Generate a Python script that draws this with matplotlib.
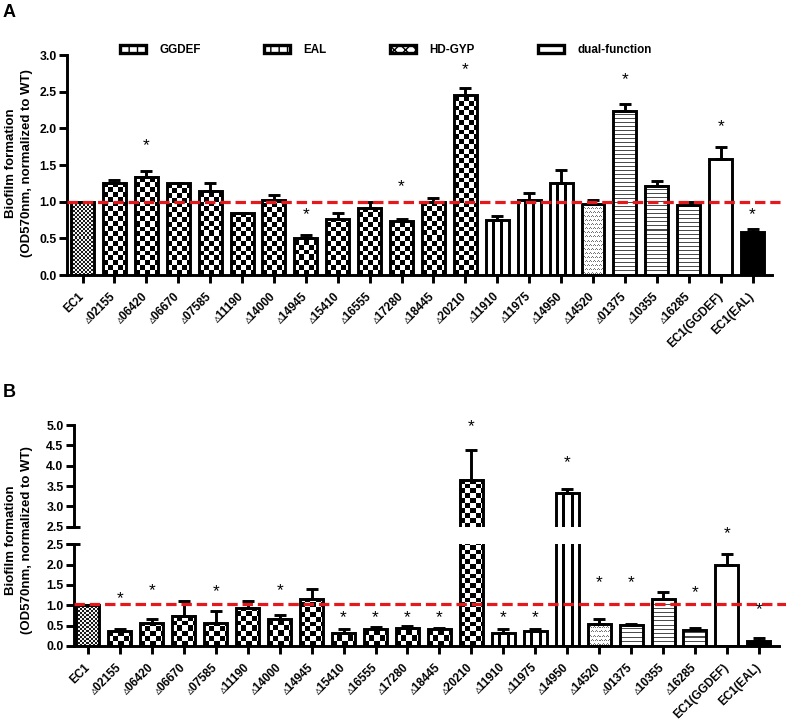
import numpy as np
import matplotlib
matplotlib.use('Agg')
import matplotlib.pyplot as plt
from matplotlib.patches import Patch
from matplotlib.ticker import FixedLocator, FormatStrFormatter
import matplotlib.transforms as mtransforms

plt.rcParams['font.family'] = ['Liberation Sans', 'DejaVu Sans']
plt.rcParams['font.weight'] = 'bold'
plt.rcParams['lines.scale_dashes'] = False

# ---------------- data ----------------
labels = ['EC1', '▵02155', '▵06420', '▵06670', '▵07585', '▵11190', '▵14000',
          '▵14945', '▵15410', '▵16555', '▵17280', '▵18445', '▵20210',
          '▵11910', '▵11975', '▵14950', '▵14520', '▵01375', '▵10355',
          '▵16285', 'EC1(GGDEF)', 'EC1(EAL)']
kinds = ['fine'] + ['checker'] * 12 + ['vstripe'] * 3 + ['dots'] + \
        ['hstripe'] * 3 + ['white', 'black']

a_vals = [1.00, 1.26, 1.34, 1.25, 1.15, 0.84, 1.02, 0.51, 0.76, 0.91, 0.73,
          1.00, 2.46, 0.75, 1.02, 1.26, 0.97, 2.23, 1.22, 0.95, 1.58, 0.58]
a_errs = [0.00, 0.04, 0.08, 0.01, 0.10, 0.01, 0.07, 0.04, 0.08, 0.08, 0.03,
          0.05, 0.09, 0.05, 0.10, 0.17, 0.05, 0.10, 0.06, 0.04, 0.17, 0.05]
a_star = [None, None, 1.77, None, None, None, None, 0.82, None, None, 1.20,
          None, 2.80, None, None, None, None, 2.66, None, None, 2.02, 0.82]

b_vals = [1.00, 0.36, 0.56, 0.74, 0.56, 0.94, 0.67, 1.15, 0.32, 0.43, 0.45,
          0.43, 3.66, 0.33, 0.37, 3.34, 0.55, 0.52, 1.16, 0.40, 2.00, 0.12]
b_errs = [0.00, 0.06, 0.10, 0.36, 0.30, 0.17, 0.08, 0.24, 0.10, 0.04, 0.03,
          0.01, 0.72, 0.10, 0.06, 0.09, 0.11, 0.03, 0.17, 0.05, 0.27, 0.07]
b_star = [None, 1.16, 1.35, None, 1.33, None, 1.35, None, 0.70, 0.70, 0.69,
          0.69, 4.96, 0.69, 0.69, 4.07, 1.57, 1.55, None, 1.30, 2.76, 0.89]

legend_names = ['GGDEF', 'EAL', 'HD-GYP', 'dual-function']
a_ref = 1.0
b_ref = 1.03

W, H = 786, 720
fig = plt.figure(figsize=(W / 100, H / 100), dpi=100)

BAR_W = 0.72
RED = '#e3191d'
TICK_FS = 8.8
XLAB_FS = 8.4


def pattern(kind, w, h):
    w = max(int(round(w)), 1)
    h = max(int(round(h)), 1)
    yy, xx = np.mgrid[0:h, 0:w]
    if kind == 'checker':
        c = 4.8
        arr = ((np.floor(xx / c) + np.floor(yy / c)) % 2).astype(float)
    elif kind == 'fine':
        arr = ((xx // 2 + yy // 2) % 2).astype(float) * 0.85 + 0.1
    elif kind == 'vstripe':
        arr = np.ones((h, w))
        for k in (1, 2):
            col = k * w / 3.0
            arr[:, np.abs(xx[0] + 0.5 - col) < 1.2] = 0.0
    elif kind == 'hstripe':
        arr = np.where(yy % 4 == 0, 0.3, 1.0)
    elif kind == 'dots':
        arr = np.ones((h, w))
        shift = 2 * ((yy // 4) % 2)
        m1 = (yy % 4 == 1) & ((xx + shift) % 4 == 1)
        m2 = (yy % 4 == 2) & ((xx + shift) % 4 == 2)
        m3 = (yy % 4 == 1) & ((xx + shift) % 4 == 3)
        arr[m1 | m2 | m3] = 0.45
    elif kind == 'black':
        arr = np.zeros((h, w))
    else:
        arr = np.ones((h, w))
    return arr


def draw_bars(ax, vals, errs, ylim):
    x = np.arange(len(vals))
    pxx = ax.bbox.width / (ax.get_xlim()[1] - ax.get_xlim()[0])
    pxy = ax.bbox.height / (ylim[1] - ylim[0])
    for xi, v, k in zip(x, vals, kinds):
        arr = pattern(k, BAR_W * pxx, v * pxy)
        ax.imshow(arr, cmap='gray', vmin=0, vmax=1, origin='lower',
                  extent=(xi - BAR_W / 2, xi + BAR_W / 2, 0, v),
                  interpolation='nearest', aspect='auto', zorder=1)
    ax.bar(x, vals, BAR_W, facecolor='none', edgecolor='black',
           linewidth=2.1, zorder=2)
    ax.errorbar(x, vals, yerr=[np.zeros(len(errs)), errs], fmt='none',
                ecolor='black', elinewidth=2.1, capsize=4.5, capthick=2.1,
                zorder=3)


def style_axis(ax):
    for s in ['top', 'right']:
        ax.spines[s].set_visible(False)
    for s in ['left', 'bottom']:
        ax.spines[s].set_linewidth(2.1)
    ax.tick_params(axis='both', direction='out', length=6, width=2.1,
                   labelsize=TICK_FS)
    ax.tick_params(axis='y', pad=1.5)
    ax.yaxis.set_major_formatter(FormatStrFormatter('%.1f'))


def set_xlabels(ax):
    ax.set_xticks(np.arange(len(labels)))
    ax.set_xticklabels(labels, rotation=45, ha='right', va='center',
                       rotation_mode='anchor', fontsize=XLAB_FS,
                       fontweight='bold')
    ax.tick_params(axis='x', pad=8)


def stars(ax, ys):
    for i, y in enumerate(ys):
        if y is not None:
            ax.text(i, y, '*', ha='center', va='center', fontsize=12.5,
                    fontweight='normal', zorder=5, clip_on=False)


# ---------------- Panel A ----------------
axA = fig.add_axes([67 / W, 1 - 275 / H, (772 - 67) / W, 220 / H])
axA.set_xlim(-0.486, 21.61)
axA.set_ylim(0, 3.0)
draw_bars(axA, a_vals, a_errs, (0, 3.0))
axA.set_xlim(-0.486, 21.61)
axA.set_ylim(0, 3.0)
style_axis(axA)
axA.yaxis.set_major_locator(FixedLocator(np.arange(0, 3.01, 0.5)))
set_xlabels(axA)
axA.axhline(a_ref, xmin=0, xmax=1.012, color=RED, lw=2.3,
            dashes=(7.5, 3.5), zorder=4, clip_on=False)
stars(axA, a_star)

# legend
handles = [Patch(facecolor='white', edgecolor='black', hatch='||', lw=2.4),
           Patch(facecolor='white', edgecolor='black', hatch='||', lw=2.4),
           Patch(facecolor='white', edgecolor='black', hatch='xxx', lw=2.4),
           Patch(facecolor='white', edgecolor='black', lw=2.4)]
fig.legend(handles, legend_names, loc='center', ncol=4,
           bbox_to_anchor=(386 / W, 1 - 50 / H), frameon=False,
           prop={'size': 8.4, 'weight': 'bold'}, handlelength=2.2,
           handleheight=0.7, handletextpad=1.2, columnspacing=5.4,
           borderpad=0, borderaxespad=0)

# ---------------- Panel B (broken axis) ----------------
left_b = 74 / W
width_b = (779 - 74) / W
seg_h = 101.7 / H
axBl = fig.add_axes([left_b, 1 - 646 / H, width_b, seg_h])
axBu = fig.add_axes([left_b, 1 - 526.7 / H, width_b, seg_h])
for ax, yl in ((axBl, (0, 2.5)), (axBu, (2.5, 5.0))):
    ax.set_xlim(-0.438, 21.63)
    ax.set_ylim(*yl)
    draw_bars(ax, b_vals, b_errs, yl)
    ax.set_xlim(-0.438, 21.63)
    ax.set_ylim(*yl)
    style_axis(ax)
    ax.yaxis.set_major_locator(FixedLocator(np.arange(yl[0], yl[1] + 0.01, 0.5)))

set_xlabels(axBl)
axBu.spines['bottom'].set_visible(False)
axBu.tick_params(axis='x', bottom=False, labelbottom=False)
axBl.axhline(b_ref, xmin=0, xmax=1.01, color=RED, lw=2.3,
             dashes=(7.5, 3.5), zorder=4, clip_on=False)
stars(axBl, [s if (s is not None and s < 3.0) else None for s in b_star])
stars(axBu, [s if (s is not None and s >= 3.0) else None for s in b_star])

# break caps on the y axis
for ax, yv in ((axBu, 2.5), (axBl, 2.5)):
    tr = mtransforms.blended_transform_factory(ax.transAxes, ax.transData)
    dx0 = -8 / (ax.bbox.width)
    dx1 = 6 / (ax.bbox.width)
    ax.plot([dx0, dx1], [yv, yv], color='black', lw=2.1, transform=tr,
            clip_on=False, solid_capstyle='butt')

# ---------------- labels ----------------
ylab = 'Biofilm formation\n(OD570nm, normalized to WT)'
fig.text(19 / W, 1 - 163 / H, ylab, rotation=90, ha='center', va='center',
         multialignment='center', fontsize=9.5, fontweight='bold',
         linespacing=1.4)
fig.text(19 / W, 1 - 540 / H, ylab, rotation=90, ha='center', va='center',
         multialignment='center', fontsize=9.5, fontweight='bold',
         linespacing=1.4)
fig.text(3 / W, 1 - 4 / H, 'A', fontsize=13, fontweight='bold',
         ha='left', va='top')
fig.text(3 / W, 1 - 384 / H, 'B', fontsize=13, fontweight='bold',
         ha='left', va='top')

fig.savefig('out.png', dpi=100)
